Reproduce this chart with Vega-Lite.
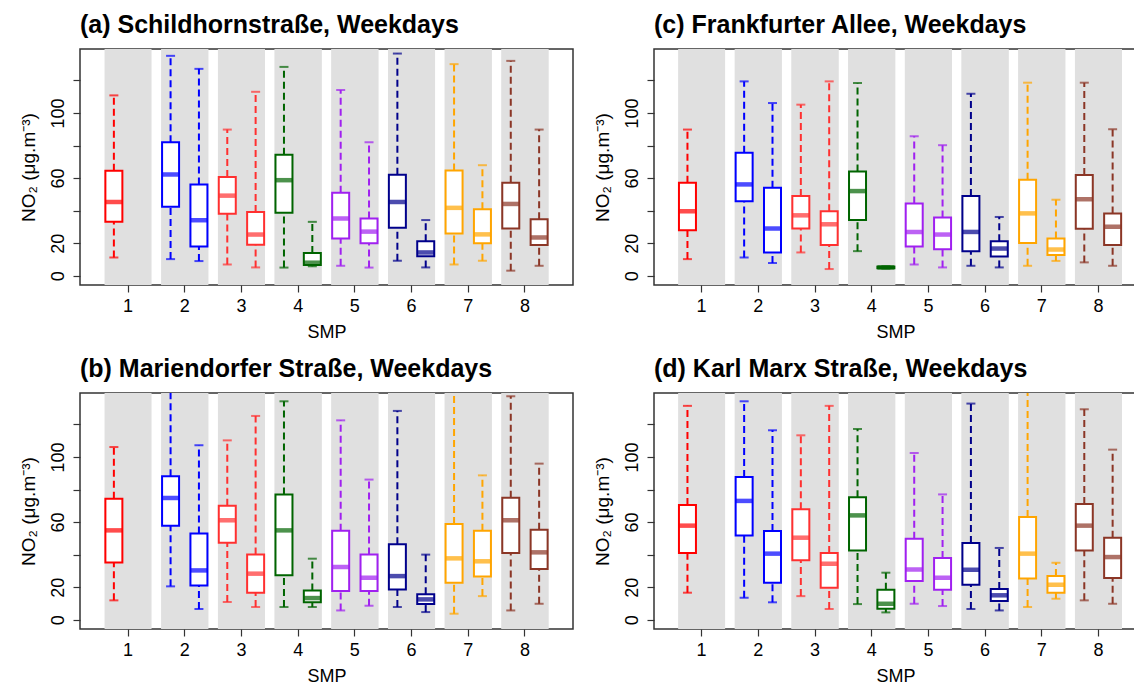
{
  "$schema": "https://vega.github.io/schema/vega-lite/v6.json",
  "padding": {"left": 18, "top": 11, "right": 0, "bottom": 0},
  "background": "white",
  "data": {"values": [
    {"panel": "a", "smp": 1, "box": 1, "lo": 11.2, "q1": 33.1, "med": 45.3, "q3": 64.5, "hi": 110.8},
    {"panel": "a", "smp": 2, "box": 1, "lo": 10.2, "q1": 42.4, "med": 62.2, "q3": 82.0, "hi": 135.1},
    {"panel": "a", "smp": 2, "box": 2, "lo": 9.0, "q1": 18.0, "med": 34.1, "q3": 56.1, "hi": 127.1},
    {"panel": "a", "smp": 3, "box": 1, "lo": 6.9, "q1": 38.0, "med": 49.2, "q3": 60.6, "hi": 89.8},
    {"panel": "a", "smp": 3, "box": 2, "lo": 5.1, "q1": 19.0, "med": 25.3, "q3": 39.2, "hi": 113.0},
    {"panel": "a", "smp": 4, "box": 1, "lo": 5.0, "q1": 38.7, "med": 58.7, "q3": 74.4, "hi": 128.3},
    {"panel": "a", "smp": 4, "box": 2, "lo": 5.8, "q1": 6.6, "med": 8.0, "q3": 13.9, "hi": 33.1},
    {"panel": "a", "smp": 5, "box": 1, "lo": 6.1, "q1": 22.9, "med": 35.1, "q3": 51.0, "hi": 114.1},
    {"panel": "a", "smp": 5, "box": 2, "lo": 5.0, "q1": 19.9, "med": 27.1, "q3": 35.2, "hi": 82.0},
    {"panel": "a", "smp": 6, "box": 1, "lo": 9.2, "q1": 29.4, "med": 45.3, "q3": 62.0, "hi": 136.5},
    {"panel": "a", "smp": 6, "box": 2, "lo": 5.1, "q1": 11.9, "med": 14.3, "q3": 21.2, "hi": 34.2},
    {"panel": "a", "smp": 7, "box": 1, "lo": 6.9, "q1": 26.0, "med": 41.7, "q3": 64.6, "hi": 130.0},
    {"panel": "a", "smp": 7, "box": 2, "lo": 9.2, "q1": 19.9, "med": 25.4, "q3": 40.8, "hi": 67.9},
    {"panel": "a", "smp": 8, "box": 1, "lo": 3.1, "q1": 29.0, "med": 44.1, "q3": 57.1, "hi": 132.0},
    {"panel": "a", "smp": 8, "box": 2, "lo": 6.1, "q1": 18.8, "med": 23.5, "q3": 34.7, "hi": 89.8},

    {"panel": "c", "smp": 1, "box": 1, "lo": 10.2, "q1": 28.0, "med": 39.6, "q3": 57.1, "hi": 89.8},
    {"panel": "c", "smp": 2, "box": 1, "lo": 11.2, "q1": 45.7, "med": 56.1, "q3": 75.5, "hi": 119.4},
    {"panel": "c", "smp": 2, "box": 2, "lo": 7.8, "q1": 14.3, "med": 29.0, "q3": 54.1, "hi": 106.1},
    {"panel": "c", "smp": 3, "box": 1, "lo": 14.3, "q1": 29.0, "med": 37.1, "q3": 49.0, "hi": 105.1},
    {"panel": "c", "smp": 3, "box": 2, "lo": 4.1, "q1": 18.8, "med": 31.6, "q3": 39.6, "hi": 119.4},
    {"panel": "c", "smp": 4, "box": 1, "lo": 15.1, "q1": 34.3, "med": 52.0, "q3": 64.1, "hi": 118.4},
    {"panel": "c", "smp": 4, "box": 2, "lo": 4.4, "q1": 4.6, "med": 5.1, "q3": 5.6, "hi": 5.8},
    {"panel": "c", "smp": 5, "box": 1, "lo": 6.9, "q1": 18.0, "med": 26.9, "q3": 44.3, "hi": 85.7},
    {"panel": "c", "smp": 5, "box": 2, "lo": 5.1, "q1": 16.3, "med": 25.3, "q3": 35.7, "hi": 80.2},
    {"panel": "c", "smp": 6, "box": 1, "lo": 6.1, "q1": 15.1, "med": 26.9, "q3": 49.0, "hi": 111.8},
    {"panel": "c", "smp": 6, "box": 2, "lo": 5.1, "q1": 11.8, "med": 16.7, "q3": 21.2, "hi": 36.1},
    {"panel": "c", "smp": 7, "box": 1, "lo": 6.1, "q1": 20.1, "med": 38.3, "q3": 58.9, "hi": 118.6},
    {"panel": "c", "smp": 7, "box": 2, "lo": 9.1, "q1": 12.7, "med": 16.1, "q3": 22.9, "hi": 46.7},
    {"panel": "c", "smp": 8, "box": 1, "lo": 8.2, "q1": 28.8, "med": 47.0, "q3": 61.9, "hi": 118.6},
    {"panel": "c", "smp": 8, "box": 2, "lo": 6.1, "q1": 18.8, "med": 30.1, "q3": 38.3, "hi": 90.0},

    {"panel": "b", "smp": 1, "box": 1, "lo": 11.9, "q1": 35.2, "med": 54.9, "q3": 74.4, "hi": 106.1},
    {"panel": "b", "smp": 2, "box": 1, "lo": 20.5, "q1": 57.8, "med": 74.8, "q3": 88.1, "hi": 142.0},
    {"panel": "b", "smp": 2, "box": 2, "lo": 6.6, "q1": 21.1, "med": 30.3, "q3": 52.9, "hi": 107.2},
    {"panel": "b", "smp": 3, "box": 1, "lo": 10.9, "q1": 47.3, "med": 61.1, "q3": 70.1, "hi": 110.2},
    {"panel": "b", "smp": 3, "box": 2, "lo": 7.8, "q1": 16.6, "med": 28.3, "q3": 40.0, "hi": 125.2},
    {"panel": "b", "smp": 4, "box": 1, "lo": 7.8, "q1": 27.3, "med": 54.9, "q3": 77.0, "hi": 134.2},
    {"panel": "b", "smp": 4, "box": 2, "lo": 7.8, "q1": 10.7, "med": 13.3, "q3": 18.0, "hi": 37.5},
    {"panel": "b", "smp": 5, "box": 1, "lo": 5.7, "q1": 17.6, "med": 32.4, "q3": 54.7, "hi": 122.5},
    {"panel": "b", "smp": 5, "box": 2, "lo": 8.6, "q1": 17.6, "med": 25.8, "q3": 40.0, "hi": 86.1},
    {"panel": "b", "smp": 6, "box": 1, "lo": 7.8, "q1": 18.6, "med": 26.8, "q3": 46.3, "hi": 128.3},
    {"panel": "b", "smp": 6, "box": 2, "lo": 4.7, "q1": 9.6, "med": 12.5, "q3": 15.6, "hi": 40.0},
    {"panel": "b", "smp": 7, "box": 1, "lo": 3.7, "q1": 22.7, "med": 37.7, "q3": 58.8, "hi": 142.0},
    {"panel": "b", "smp": 7, "box": 2, "lo": 14.5, "q1": 26.6, "med": 35.9, "q3": 54.7, "hi": 88.7},
    {"panel": "b", "smp": 8, "box": 1, "lo": 5.7, "q1": 41.0, "med": 61.1, "q3": 75.0, "hi": 137.3},
    {"panel": "b", "smp": 8, "box": 2, "lo": 9.8, "q1": 31.1, "med": 41.4, "q3": 55.3, "hi": 95.9},

    {"panel": "d", "smp": 1, "box": 1, "lo": 16.6, "q1": 41.0, "med": 57.8, "q3": 70.5, "hi": 131.4},
    {"panel": "d", "smp": 2, "box": 1, "lo": 13.5, "q1": 51.8, "med": 73.0, "q3": 87.7, "hi": 134.2},
    {"panel": "d", "smp": 2, "box": 2, "lo": 10.7, "q1": 22.7, "med": 40.6, "q3": 54.5, "hi": 116.4},
    {"panel": "d", "smp": 3, "box": 1, "lo": 14.5, "q1": 36.5, "med": 50.4, "q3": 67.8, "hi": 113.3},
    {"panel": "d", "smp": 3, "box": 2, "lo": 6.6, "q1": 19.7, "med": 34.4, "q3": 41.0, "hi": 131.4},
    {"panel": "d", "smp": 4, "box": 1, "lo": 9.6, "q1": 42.6, "med": 64.1, "q3": 75.2, "hi": 117.2},
    {"panel": "d", "smp": 4, "box": 2, "lo": 4.5, "q1": 6.8, "med": 9.8, "q3": 18.4, "hi": 28.9},
    {"panel": "d", "smp": 5, "box": 1, "lo": 9.8, "q1": 23.8, "med": 30.9, "q3": 49.8, "hi": 102.5},
    {"panel": "d", "smp": 5, "box": 2, "lo": 8.4, "q1": 18.4, "med": 25.8, "q3": 37.9, "hi": 77.0},
    {"panel": "d", "smp": 6, "box": 1, "lo": 6.6, "q1": 21.5, "med": 30.7, "q3": 47.1, "hi": 132.8},
    {"panel": "d", "smp": 6, "box": 2, "lo": 5.7, "q1": 11.5, "med": 15.0, "q3": 18.9, "hi": 44.1},
    {"panel": "d", "smp": 7, "box": 1, "lo": 7.8, "q1": 25.4, "med": 40.6, "q3": 63.1, "hi": 142.0},
    {"panel": "d", "smp": 7, "box": 2, "lo": 12.9, "q1": 16.6, "med": 21.5, "q3": 26.8, "hi": 35.0},
    {"panel": "d", "smp": 8, "box": 1, "lo": 11.9, "q1": 42.6, "med": 57.8, "q3": 71.1, "hi": 129.3},
    {"panel": "d", "smp": 8, "box": 2, "lo": 9.8, "q1": 25.6, "med": 38.5, "q3": 50.4, "hi": 104.5}
  ]},
  "columns": 2,
  "spacing": {"row": 13, "column": 18},
  "resolve": {"scale": {"x": "independent"}},
  "concat": [
    {
      "title": "(a) Schildhornstraße, Weekdays",
      "width": 493, "height": 236,
      "transform": [{"filter": "datum.panel == 'a'"}],
      "encoding": {"x": {"field": "smp", "type": "ordinal", "title": "SMP", "scale": {"type": "band", "domain": [1,2,3,4,5,6,7,8], "paddingInner": 0, "paddingOuter": 0.3475, "round": false}}},
      "layer": [
        {"mark": {"type": "bar", "color": "#E0E0E0", "width": 47}, "encoding": {}},
        {"mark": {"type": "rule", "strokeDash": [7, 4], "strokeWidth": 2, "clip": true},
         "encoding": {"xOffset": {"field": "box", "type": "nominal", "scale": {"domain": [1, 2], "paddingInner": 0, "paddingOuter": 0}},
                      "y": {"field": "q3", "type": "quantitative", "title": "NO₂  (μg.m⁻³)", "scale": {"domain": [-5.7, 139.3], "nice": false, "zero": false}},
                      "y2": {"field": "hi"},
                      "color": {"field": "smp", "type": "nominal", "legend": null, "scale": {"domain": [1,2,3,4,5,6,7,8], "range": ["#FF0000", "#0000FF", "#FF3030", "#006400", "#A020F0", "#00008B", "#FFA500", "#8B3626"]}}}},
        {"mark": {"type": "rule", "strokeDash": [7, 4], "strokeWidth": 2, "clip": true},
         "encoding": {"xOffset": {"field": "box", "type": "nominal", "scale": {"domain": [1, 2], "paddingInner": 0, "paddingOuter": 0}},
                      "y": {"field": "lo", "type": "quantitative", "title": "NO₂  (μg.m⁻³)", "scale": {"domain": [-5.7, 139.3], "nice": false, "zero": false}},
                      "y2": {"field": "q1"},
                      "color": {"field": "smp", "type": "nominal", "legend": null, "scale": {"domain": [1,2,3,4,5,6,7,8], "range": ["#FF0000", "#0000FF", "#FF3030", "#006400", "#A020F0", "#00008B", "#FFA500", "#8B3626"]}}}},
        {"mark": {"type": "tick", "orient": "horizontal", "size": 9, "thickness": 2, "clip": true},
         "encoding": {"xOffset": {"field": "box", "type": "nominal", "scale": {"domain": [1, 2], "paddingInner": 0, "paddingOuter": 0}},
                      "y": {"field": "hi", "type": "quantitative", "title": "NO₂  (μg.m⁻³)", "scale": {"domain": [-5.7, 139.3], "nice": false, "zero": false}},
                      "color": {"field": "smp", "type": "nominal", "legend": null, "scale": {"domain": [1,2,3,4,5,6,7,8], "range": ["#FF0000", "#0000FF", "#FF3030", "#006400", "#A020F0", "#00008B", "#FFA500", "#8B3626"]}}}},
        {"mark": {"type": "tick", "orient": "horizontal", "size": 9, "thickness": 2, "clip": true},
         "encoding": {"xOffset": {"field": "box", "type": "nominal", "scale": {"domain": [1, 2], "paddingInner": 0, "paddingOuter": 0}},
                      "y": {"field": "lo", "type": "quantitative", "title": "NO₂  (μg.m⁻³)", "scale": {"domain": [-5.7, 139.3], "nice": false, "zero": false}},
                      "color": {"field": "smp", "type": "nominal", "legend": null, "scale": {"domain": [1,2,3,4,5,6,7,8], "range": ["#FF0000", "#0000FF", "#FF3030", "#006400", "#A020F0", "#00008B", "#FFA500", "#8B3626"]}}}},
        {"mark": {"type": "bar", "width": 17, "fill": "white", "strokeWidth": 2},
         "encoding": {"xOffset": {"field": "box", "type": "nominal", "scale": {"domain": [1, 2], "paddingInner": 0, "paddingOuter": 0}},
                      "y": {"field": "q1", "type": "quantitative", "title": "NO₂  (μg.m⁻³)", "scale": {"domain": [-5.7, 139.3], "nice": false, "zero": false}},
                      "y2": {"field": "q3"},
                      "stroke": {"field": "smp", "type": "nominal", "legend": null, "scale": {"domain": [1,2,3,4,5,6,7,8], "range": ["#FF0000", "#0000FF", "#FF3030", "#006400", "#A020F0", "#00008B", "#FFA500", "#8B3626"]}}}},
        {"mark": {"type": "tick", "orient": "horizontal", "size": 17, "thickness": 4.5},
         "encoding": {"xOffset": {"field": "box", "type": "nominal", "scale": {"domain": [1, 2], "paddingInner": 0, "paddingOuter": 0}},
                      "y": {"field": "med", "type": "quantitative", "title": "NO₂  (μg.m⁻³)", "scale": {"domain": [-5.7, 139.3], "nice": false, "zero": false}},
                      "color": {"field": "smp", "type": "nominal", "legend": null, "scale": {"domain": [1,2,3,4,5,6,7,8], "range": ["#FF0000", "#0000FF", "#FF3030", "#006400", "#A020F0", "#00008B", "#FFA500", "#8B3626"]}}}}
      ]
    },
    {
      "title": "(c) Frankfurter Allee, Weekdays",
      "width": 483, "height": 236,
      "transform": [{"filter": "datum.panel == 'c'"}],
      "encoding": {"x": {"field": "smp", "type": "ordinal", "title": "SMP", "scale": {"type": "band", "domain": [1,2,3,4,5,6,7,8], "paddingInner": 0, "paddingOuter": 0.26, "align": 0.654, "round": false}}},
      "layer": [
        {"mark": {"type": "bar", "color": "#E0E0E0", "width": 47}, "encoding": {}},
        {"mark": {"type": "rule", "strokeDash": [7, 4], "strokeWidth": 2, "clip": true},
         "encoding": {"xOffset": {"field": "box", "type": "nominal", "scale": {"domain": [1, 2], "paddingInner": 0, "paddingOuter": 0}},
                      "y": {"field": "q3", "type": "quantitative", "title": "NO₂  (μg.m⁻³)", "scale": {"domain": [-5.7, 139.3], "nice": false, "zero": false}},
                      "y2": {"field": "hi"},
                      "color": {"field": "smp", "type": "nominal", "legend": null, "scale": {"domain": [1,2,3,4,5,6,7,8], "range": ["#FF0000", "#0000FF", "#FF3030", "#006400", "#A020F0", "#00008B", "#FFA500", "#8B3626"]}}}},
        {"mark": {"type": "rule", "strokeDash": [7, 4], "strokeWidth": 2, "clip": true},
         "encoding": {"xOffset": {"field": "box", "type": "nominal", "scale": {"domain": [1, 2], "paddingInner": 0, "paddingOuter": 0}},
                      "y": {"field": "lo", "type": "quantitative", "title": "NO₂  (μg.m⁻³)", "scale": {"domain": [-5.7, 139.3], "nice": false, "zero": false}},
                      "y2": {"field": "q1"},
                      "color": {"field": "smp", "type": "nominal", "legend": null, "scale": {"domain": [1,2,3,4,5,6,7,8], "range": ["#FF0000", "#0000FF", "#FF3030", "#006400", "#A020F0", "#00008B", "#FFA500", "#8B3626"]}}}},
        {"mark": {"type": "tick", "orient": "horizontal", "size": 9, "thickness": 2, "clip": true},
         "encoding": {"xOffset": {"field": "box", "type": "nominal", "scale": {"domain": [1, 2], "paddingInner": 0, "paddingOuter": 0}},
                      "y": {"field": "hi", "type": "quantitative", "title": "NO₂  (μg.m⁻³)", "scale": {"domain": [-5.7, 139.3], "nice": false, "zero": false}},
                      "color": {"field": "smp", "type": "nominal", "legend": null, "scale": {"domain": [1,2,3,4,5,6,7,8], "range": ["#FF0000", "#0000FF", "#FF3030", "#006400", "#A020F0", "#00008B", "#FFA500", "#8B3626"]}}}},
        {"mark": {"type": "tick", "orient": "horizontal", "size": 9, "thickness": 2, "clip": true},
         "encoding": {"xOffset": {"field": "box", "type": "nominal", "scale": {"domain": [1, 2], "paddingInner": 0, "paddingOuter": 0}},
                      "y": {"field": "lo", "type": "quantitative", "title": "NO₂  (μg.m⁻³)", "scale": {"domain": [-5.7, 139.3], "nice": false, "zero": false}},
                      "color": {"field": "smp", "type": "nominal", "legend": null, "scale": {"domain": [1,2,3,4,5,6,7,8], "range": ["#FF0000", "#0000FF", "#FF3030", "#006400", "#A020F0", "#00008B", "#FFA500", "#8B3626"]}}}},
        {"mark": {"type": "bar", "width": 17, "fill": "white", "strokeWidth": 2},
         "encoding": {"xOffset": {"field": "box", "type": "nominal", "scale": {"domain": [1, 2], "paddingInner": 0, "paddingOuter": 0}},
                      "y": {"field": "q1", "type": "quantitative", "title": "NO₂  (μg.m⁻³)", "scale": {"domain": [-5.7, 139.3], "nice": false, "zero": false}},
                      "y2": {"field": "q3"},
                      "stroke": {"field": "smp", "type": "nominal", "legend": null, "scale": {"domain": [1,2,3,4,5,6,7,8], "range": ["#FF0000", "#0000FF", "#FF3030", "#006400", "#A020F0", "#00008B", "#FFA500", "#8B3626"]}}}},
        {"mark": {"type": "tick", "orient": "horizontal", "size": 17, "thickness": 4.5},
         "encoding": {"xOffset": {"field": "box", "type": "nominal", "scale": {"domain": [1, 2], "paddingInner": 0, "paddingOuter": 0}},
                      "y": {"field": "med", "type": "quantitative", "title": "NO₂  (μg.m⁻³)", "scale": {"domain": [-5.7, 139.3], "nice": false, "zero": false}},
                      "color": {"field": "smp", "type": "nominal", "legend": null, "scale": {"domain": [1,2,3,4,5,6,7,8], "range": ["#FF0000", "#0000FF", "#FF3030", "#006400", "#A020F0", "#00008B", "#FFA500", "#8B3626"]}}}}
      ]
    },
    {
      "title": "(b) Mariendorfer Straße, Weekdays",
      "width": 493, "height": 236,
      "transform": [{"filter": "datum.panel == 'b'"}],
      "encoding": {"x": {"field": "smp", "type": "ordinal", "title": "SMP", "scale": {"type": "band", "domain": [1,2,3,4,5,6,7,8], "paddingInner": 0, "paddingOuter": 0.3475, "round": false}}},
      "layer": [
        {"mark": {"type": "bar", "color": "#E0E0E0", "width": 47}, "encoding": {}},
        {"mark": {"type": "rule", "strokeDash": [7, 4], "strokeWidth": 2, "clip": true},
         "encoding": {"xOffset": {"field": "box", "type": "nominal", "scale": {"domain": [1, 2], "paddingInner": 0, "paddingOuter": 0}},
                      "y": {"field": "q3", "type": "quantitative", "title": "NO₂  (μg.m⁻³)", "scale": {"domain": [-5.7, 139.3], "nice": false, "zero": false}},
                      "y2": {"field": "hi"},
                      "color": {"field": "smp", "type": "nominal", "legend": null, "scale": {"domain": [1,2,3,4,5,6,7,8], "range": ["#FF0000", "#0000FF", "#FF3030", "#006400", "#A020F0", "#00008B", "#FFA500", "#8B3626"]}}}},
        {"mark": {"type": "rule", "strokeDash": [7, 4], "strokeWidth": 2, "clip": true},
         "encoding": {"xOffset": {"field": "box", "type": "nominal", "scale": {"domain": [1, 2], "paddingInner": 0, "paddingOuter": 0}},
                      "y": {"field": "lo", "type": "quantitative", "title": "NO₂  (μg.m⁻³)", "scale": {"domain": [-5.7, 139.3], "nice": false, "zero": false}},
                      "y2": {"field": "q1"},
                      "color": {"field": "smp", "type": "nominal", "legend": null, "scale": {"domain": [1,2,3,4,5,6,7,8], "range": ["#FF0000", "#0000FF", "#FF3030", "#006400", "#A020F0", "#00008B", "#FFA500", "#8B3626"]}}}},
        {"mark": {"type": "tick", "orient": "horizontal", "size": 9, "thickness": 2, "clip": true},
         "encoding": {"xOffset": {"field": "box", "type": "nominal", "scale": {"domain": [1, 2], "paddingInner": 0, "paddingOuter": 0}},
                      "y": {"field": "hi", "type": "quantitative", "title": "NO₂  (μg.m⁻³)", "scale": {"domain": [-5.7, 139.3], "nice": false, "zero": false}},
                      "color": {"field": "smp", "type": "nominal", "legend": null, "scale": {"domain": [1,2,3,4,5,6,7,8], "range": ["#FF0000", "#0000FF", "#FF3030", "#006400", "#A020F0", "#00008B", "#FFA500", "#8B3626"]}}}},
        {"mark": {"type": "tick", "orient": "horizontal", "size": 9, "thickness": 2, "clip": true},
         "encoding": {"xOffset": {"field": "box", "type": "nominal", "scale": {"domain": [1, 2], "paddingInner": 0, "paddingOuter": 0}},
                      "y": {"field": "lo", "type": "quantitative", "title": "NO₂  (μg.m⁻³)", "scale": {"domain": [-5.7, 139.3], "nice": false, "zero": false}},
                      "color": {"field": "smp", "type": "nominal", "legend": null, "scale": {"domain": [1,2,3,4,5,6,7,8], "range": ["#FF0000", "#0000FF", "#FF3030", "#006400", "#A020F0", "#00008B", "#FFA500", "#8B3626"]}}}},
        {"mark": {"type": "bar", "width": 17, "fill": "white", "strokeWidth": 2},
         "encoding": {"xOffset": {"field": "box", "type": "nominal", "scale": {"domain": [1, 2], "paddingInner": 0, "paddingOuter": 0}},
                      "y": {"field": "q1", "type": "quantitative", "title": "NO₂  (μg.m⁻³)", "scale": {"domain": [-5.7, 139.3], "nice": false, "zero": false}},
                      "y2": {"field": "q3"},
                      "stroke": {"field": "smp", "type": "nominal", "legend": null, "scale": {"domain": [1,2,3,4,5,6,7,8], "range": ["#FF0000", "#0000FF", "#FF3030", "#006400", "#A020F0", "#00008B", "#FFA500", "#8B3626"]}}}},
        {"mark": {"type": "tick", "orient": "horizontal", "size": 17, "thickness": 4.5},
         "encoding": {"xOffset": {"field": "box", "type": "nominal", "scale": {"domain": [1, 2], "paddingInner": 0, "paddingOuter": 0}},
                      "y": {"field": "med", "type": "quantitative", "title": "NO₂  (μg.m⁻³)", "scale": {"domain": [-5.7, 139.3], "nice": false, "zero": false}},
                      "color": {"field": "smp", "type": "nominal", "legend": null, "scale": {"domain": [1,2,3,4,5,6,7,8], "range": ["#FF0000", "#0000FF", "#FF3030", "#006400", "#A020F0", "#00008B", "#FFA500", "#8B3626"]}}}}
      ]
    },
    {
      "title": "(d) Karl Marx Straße, Weekdays",
      "width": 483, "height": 236,
      "transform": [{"filter": "datum.panel == 'd'"}],
      "encoding": {"x": {"field": "smp", "type": "ordinal", "title": "SMP", "scale": {"type": "band", "domain": [1,2,3,4,5,6,7,8], "paddingInner": 0, "paddingOuter": 0.26, "align": 0.654, "round": false}}},
      "layer": [
        {"mark": {"type": "bar", "color": "#E0E0E0", "width": 47}, "encoding": {}},
        {"mark": {"type": "rule", "strokeDash": [7, 4], "strokeWidth": 2, "clip": true},
         "encoding": {"xOffset": {"field": "box", "type": "nominal", "scale": {"domain": [1, 2], "paddingInner": 0, "paddingOuter": 0}},
                      "y": {"field": "q3", "type": "quantitative", "title": "NO₂  (μg.m⁻³)", "scale": {"domain": [-5.7, 139.3], "nice": false, "zero": false}},
                      "y2": {"field": "hi"},
                      "color": {"field": "smp", "type": "nominal", "legend": null, "scale": {"domain": [1,2,3,4,5,6,7,8], "range": ["#FF0000", "#0000FF", "#FF3030", "#006400", "#A020F0", "#00008B", "#FFA500", "#8B3626"]}}}},
        {"mark": {"type": "rule", "strokeDash": [7, 4], "strokeWidth": 2, "clip": true},
         "encoding": {"xOffset": {"field": "box", "type": "nominal", "scale": {"domain": [1, 2], "paddingInner": 0, "paddingOuter": 0}},
                      "y": {"field": "lo", "type": "quantitative", "title": "NO₂  (μg.m⁻³)", "scale": {"domain": [-5.7, 139.3], "nice": false, "zero": false}},
                      "y2": {"field": "q1"},
                      "color": {"field": "smp", "type": "nominal", "legend": null, "scale": {"domain": [1,2,3,4,5,6,7,8], "range": ["#FF0000", "#0000FF", "#FF3030", "#006400", "#A020F0", "#00008B", "#FFA500", "#8B3626"]}}}},
        {"mark": {"type": "tick", "orient": "horizontal", "size": 9, "thickness": 2, "clip": true},
         "encoding": {"xOffset": {"field": "box", "type": "nominal", "scale": {"domain": [1, 2], "paddingInner": 0, "paddingOuter": 0}},
                      "y": {"field": "hi", "type": "quantitative", "title": "NO₂  (μg.m⁻³)", "scale": {"domain": [-5.7, 139.3], "nice": false, "zero": false}},
                      "color": {"field": "smp", "type": "nominal", "legend": null, "scale": {"domain": [1,2,3,4,5,6,7,8], "range": ["#FF0000", "#0000FF", "#FF3030", "#006400", "#A020F0", "#00008B", "#FFA500", "#8B3626"]}}}},
        {"mark": {"type": "tick", "orient": "horizontal", "size": 9, "thickness": 2, "clip": true},
         "encoding": {"xOffset": {"field": "box", "type": "nominal", "scale": {"domain": [1, 2], "paddingInner": 0, "paddingOuter": 0}},
                      "y": {"field": "lo", "type": "quantitative", "title": "NO₂  (μg.m⁻³)", "scale": {"domain": [-5.7, 139.3], "nice": false, "zero": false}},
                      "color": {"field": "smp", "type": "nominal", "legend": null, "scale": {"domain": [1,2,3,4,5,6,7,8], "range": ["#FF0000", "#0000FF", "#FF3030", "#006400", "#A020F0", "#00008B", "#FFA500", "#8B3626"]}}}},
        {"mark": {"type": "bar", "width": 17, "fill": "white", "strokeWidth": 2},
         "encoding": {"xOffset": {"field": "box", "type": "nominal", "scale": {"domain": [1, 2], "paddingInner": 0, "paddingOuter": 0}},
                      "y": {"field": "q1", "type": "quantitative", "title": "NO₂  (μg.m⁻³)", "scale": {"domain": [-5.7, 139.3], "nice": false, "zero": false}},
                      "y2": {"field": "q3"},
                      "stroke": {"field": "smp", "type": "nominal", "legend": null, "scale": {"domain": [1,2,3,4,5,6,7,8], "range": ["#FF0000", "#0000FF", "#FF3030", "#006400", "#A020F0", "#00008B", "#FFA500", "#8B3626"]}}}},
        {"mark": {"type": "tick", "orient": "horizontal", "size": 17, "thickness": 4.5},
         "encoding": {"xOffset": {"field": "box", "type": "nominal", "scale": {"domain": [1, 2], "paddingInner": 0, "paddingOuter": 0}},
                      "y": {"field": "med", "type": "quantitative", "title": "NO₂  (μg.m⁻³)", "scale": {"domain": [-5.7, 139.3], "nice": false, "zero": false}},
                      "color": {"field": "smp", "type": "nominal", "legend": null, "scale": {"domain": [1,2,3,4,5,6,7,8], "range": ["#FF0000", "#0000FF", "#FF3030", "#006400", "#A020F0", "#00008B", "#FFA500", "#8B3626"]}}}}
      ]
    }
  ],
  "config": {
    "font": "Liberation Sans",
    "view": {"stroke": "#333333", "strokeWidth": 1.5},
    "title": {"fontSize": 25, "fontWeight": "bold", "anchor": "start", "frame": "group", "color": "black", "offset": 11.5},
    "axis": {"grid": false, "domain": false, "tickSize": 7, "tickColor": "#333333", "tickWidth": 1.2, "labelFontSize": 18, "titleFontSize": 19, "labelColor": "black", "titleColor": "black", "titleFontWeight": "normal"},
    "axisX": {"labelAngle": 0, "labelPadding": 5, "titlePadding": 8, "titleFontSize": 18},
    "axisY": {"values": [0, 20, 40, 60, 80, 100, 120], "labelOverlap": false, "labelFlush": false, "labelExpr": "datum.value == 0 || datum.value % 40 == 20 ? datum.label : ''", "labelAngle": 270, "labelAlign": "center", "labelBaseline": "alphabetic", "labelPadding": 10, "titlePadding": 11}
  }
}
